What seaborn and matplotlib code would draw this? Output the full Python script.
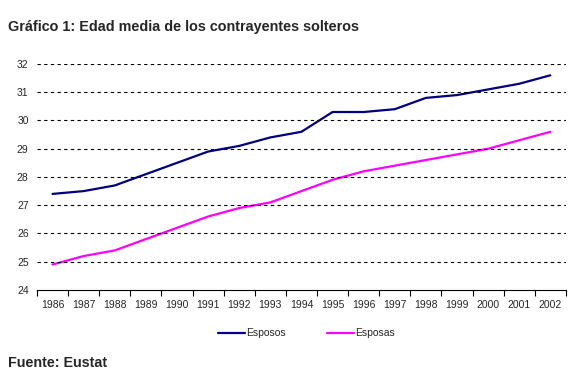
import pandas as pd
import matplotlib
matplotlib.use("Agg")
import matplotlib.pyplot as plt
import seaborn as sns

# datos
years = list(range(1986, 2003))
esposos = [27.4, 27.5, 27.7, 28.1, 28.5, 28.9, 29.1, 29.4, 29.6, 30.3,
           30.3, 30.4, 30.8, 30.9, 31.1, 31.3, 31.6]
esposas = [24.9, 25.2, 25.4, 25.8, 26.2, 26.6, 26.9, 27.1, 27.5, 27.9,
           28.2, 28.4, 28.6, 28.8, 29.0, 29.3, 29.6]
series_names = ["Esposos", "Esposas"]
colors = ["#000080", "#FF00FF"]

df = pd.DataFrame({
    "pos": list(range(len(years))) * 2,
    "edad": esposos + esposas,
    "serie": [series_names[0]] * len(years) + [series_names[1]] * len(years),
})

sns.set_style("white")
plt.rcParams["font.family"] = ["Liberation Sans", "DejaVu Sans"]

fig = plt.figure(figsize=(5.78, 3.81), dpi=100)
ax = fig.add_axes([0.064, 0.239, 0.915, 0.593])

sns.lineplot(data=df, x="pos", y="edad", hue="serie", palette=colors,
             linewidth=1.6, ax=ax, legend=False)

ax.set_xlim(-0.5, len(years) - 0.5)
ax.set_ylim(24, 32)
ax.set_yticks(range(24, 33))
ax.set_xticks(range(len(years)))
ax.set_xticklabels([str(y) for y in years])
ax.set_xticks([i - 0.5 for i in range(len(years) + 1)], minor=True)
ax.tick_params(axis="x", which="major", length=0, labelsize=7.5, pad=7)
ax.tick_params(axis="x", which="minor", length=4, width=0.8, color="black",
               direction="out", bottom=True)
ax.tick_params(axis="y", length=0, labelsize=7.5, pad=6)
ax.set_xlabel("")
ax.set_ylabel("")

for y in range(25, 33):
    ax.axhline(y, color="black", linewidth=0.8, linestyle=(0, (3, 3)))

for s in ["left", "top", "right"]:
    ax.spines[s].set_visible(False)
ax.spines["bottom"].set_color("black")
ax.spines["bottom"].set_linewidth(0.8)

handles = [plt.Line2D([], [], color=c, linewidth=1.6) for c in colors]
fig.legend(handles, series_names, loc="center", bbox_to_anchor=(0.53, 0.125),
           ncol=2, frameon=False, fontsize=7.5, handlelength=2.6,
           handletextpad=0.1, columnspacing=4.0)

fig.text(0.014, 0.93, "Gráfico 1: Edad media de los contrayentes solteros",
         fontsize=10.4, fontweight="bold", va="center")
fig.text(0.014, 0.047, "Fuente: Eustat", fontsize=10.3, fontweight="bold",
         va="center")

fig.savefig("out.png", dpi=100)
